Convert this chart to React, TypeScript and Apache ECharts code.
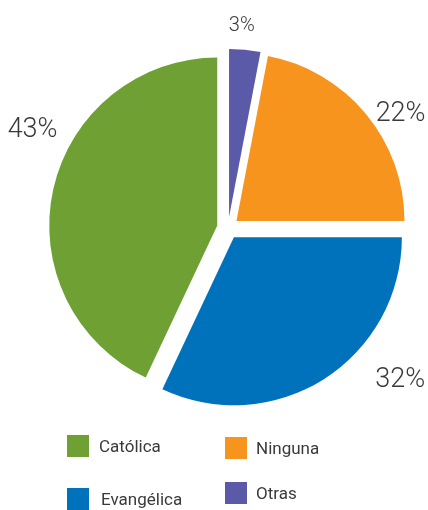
import React, { useEffect, useRef } from "react";
import * as echarts from "echarts";

const categories = ["Otras", "Ninguna", "Evangélica", "Católica"];
const values = [3, 22, 32, 43];
const colors = ["#5A5AA8", "#F7941E", "#0072BC", "#6EA034"];
const legendItems = ["Católica", "Evangélica", "Ninguna", "Otras"];

const FONT = "Roboto, 'Noto Sans', sans-serif";

export default function App() {
  const ref = useRef<HTMLDivElement>(null);
  useEffect(() => {
    if (!ref.current) return;
    const chart = echarts.init(ref.current, null, { renderer: "svg" });
    const data = categories.map((name, i) => ({
      name,
      value: values[i],
      selected: true,
      itemStyle: { color: colors[i] },
      label: i === 0 ? { fontSize: 20 } : undefined,
    }));
    const legendPos: Record<string, [number, number, number]> = {
      "Católica": [67, 435, 5],
      "Evangélica": [67, 488, 7],
      "Ninguna": [225, 437, 4],
      "Otras": [225, 482, 4],
    };
    const legends = legendItems.map((name) => ({
      data: [name],
      left: legendPos[name][0],
      top: legendPos[name][1],
      padding: 0,
      icon: "rect",
      itemWidth: 22,
      itemHeight: 22,
      selectedMode: false,
      textStyle: {
        fontFamily: FONT,
        fontSize: 17,
        color: "#3a3a3a",
        padding: [0, 0, 0, legendPos[name][2]],
      },
    }));
    const labelShift = [
      [-22, -16],
      [-3, 4],
      [41, -10],
      [19, -59],
    ];
    chart.setOption({
      animation: false,
      legend: legends,
      series: [
        {
          type: "pie",
          center: [228, 228],
          radius: 168,
          startAngle: 90,
          clockwise: true,
          selectedMode: "multiple",
          selectedOffset: 11,
          avoidLabelOverlap: false,
          emphasis: { disabled: true },
          label: {
            show: true,
            position: "outside",
            formatter: "{d}%",
            fontFamily: FONT,
            fontWeight: 300,
            fontSize: 27,
            color: "#3a3a3a",
          },
          labelLine: { show: false, length: 10, length2: 0 },
          labelLayout: (p: any) => ({
            dx: labelShift[p.dataIndex][0],
            dy: labelShift[p.dataIndex][1],
          }),
          data,
        },
      ],
    });
    return () => chart.dispose();
  }, []);
  return (
    <div
      ref={ref}
      style={{ position: "fixed", left: 0, top: 0, width: 428, height: 510 }}
    />
  );
}
